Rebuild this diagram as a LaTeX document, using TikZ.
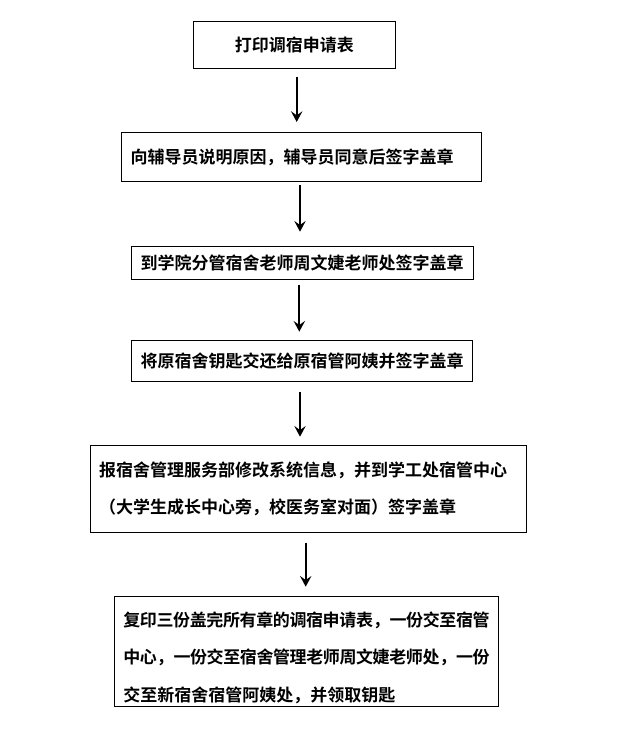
\documentclass[tikz,border=0pt]{standalone}
\usepackage{fontspec}
\usetikzlibrary{arrows.meta}
\newfontfamily\cjk{Noto Sans CJK SC Bold}

\tikzset{
  stepbox/.style={draw, line width=0.75pt, inner xsep=6.75pt, inner ysep=0pt, align=left, font=\cjk\fontsize{12.75}{27.5}\selectfont},
  flowarrow/.style={line width=1.5pt, -{Stealth[length=8pt,width=8.5pt,inset=3pt]}}
}

\begin{document}
\begin{tikzpicture}[x=0.75pt,y=0.75pt,yscale=-1,xscale=1]
%set diagram left start at 0, and has height of 737
\useasboundingbox (0,0) rectangle (623,737);

%Shape: Rectangle
\node [stepbox, align=center, text width=138.5pt, minimum height=35.5pt] (print) at (294.4,44.7) {打印调宿申请表};
%Shape: Rectangle
\node [stepbox, text width=256.5pt, minimum height=36.75pt] (tutor) at (301.7,157.2) {向辅导员说明原因，辅导员同意后签字盖章};
%Shape: Rectangle
\node [stepbox, text width=242.7pt, minimum height=24.5pt] (college) at (302.5,263) {到学院分管宿舍老师周文婕老师处签字盖章};
%Shape: Rectangle
\node [stepbox, text width=242pt, minimum height=31.3pt] (keys) at (302,360.9) {将原宿舍钥匙交还给原宿管阿姨并签字盖章};
%Shape: Rectangle
\node [stepbox, text width=313.5pt, minimum height=65.8pt] (system) at (308,488.9) {报宿舍管理服务部修改系统信息，并到学工处宿管中心\\（大学生成长中心旁，校医务室对面）签字盖章};
%Shape: Rectangle
\node [stepbox, align=justify, font={\cjk\fontsize{12.75}{28.1}\selectfont\XeTeXlinebreaklocale "zh"\XeTeXlinebreakskip=0pt plus 2pt minus 1pt}, text width=274.8pt, minimum height=82.5pt] (copies) at (306.5,651) {\rule{0pt}{21pt}复印三份盖完所有章的调宿申请表，一份交至宿管\linebreak 中心，一份交至宿舍管理老师周文婕老师处，一份\linebreak 交至新宿舍宿管阿姨处，并领取钥匙};

% Arrow ends
\coordinate (a1s) at (296.7,77);
\coordinate (a1e) at (296.7,122);
\coordinate (a2s) at (300,185);
\coordinate (a2e) at (300,231.7);
\coordinate (a3s) at (299.3,285);
\coordinate (a3e) at (299.3,331.7);
\coordinate (a4s) at (300,391.7);
\coordinate (a4e) at (300,436.7);
\coordinate (a5s) at (305.7,542.7);
\coordinate (a5e) at (305.7,586.7);

%Straight Lines
\draw [flowarrow] (a1s) -- (a1e);
%Straight Lines
\draw [flowarrow] (a2s) -- (a2e);
%Straight Lines
\draw [flowarrow] (a3s) -- (a3e);
%Straight Lines
\draw [flowarrow] (a4s) -- (a4e);
%Straight Lines
\draw [flowarrow] (a5s) -- (a5e);

\end{tikzpicture}
\end{document}
